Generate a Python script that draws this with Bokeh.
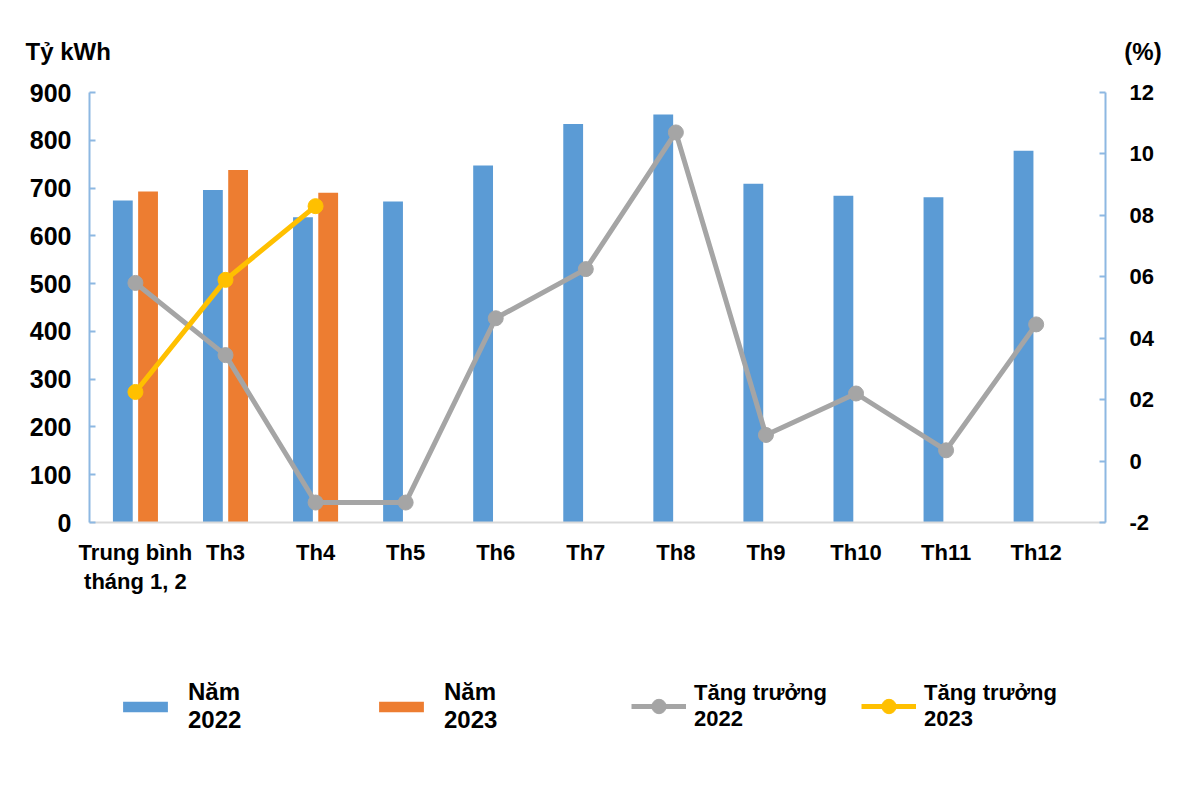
from bokeh.plotting import figure
from bokeh.layouts import column
from bokeh.models import (ColumnDataSource, Range1d, LinearAxis, FixedTicker,
                          Legend, LegendItem, Title)
from bokeh.transform import dodge
from bokeh.embed import file_html
from bokeh.resources import INLINE

categories = ["Trung bình\ntháng 1, 2", "Th3", "Th4", "Th5", "Th6", "Th7",
              "Th8", "Th9", "Th10", "Th11", "Th12"]
nam_2022 = [674, 696, 639, 672, 747, 834, 854, 709, 684, 681, 778]
nam_2023 = [693, 738, 690]
tang_truong_2022 = [5.8, 3.45, -1.35, -1.35, 4.65, 6.25, 10.7, 0.85, 2.2, 0.35, 4.45]
tang_truong_2023 = [2.25, 5.9, 8.3]
left_ticks = [0, 100, 200, 300, 400, 500, 600, 700, 800, 900]
right_ticks = [-2, 0, 2, 4, 6, 8, 10, 12]
right_tick_labels = ["-2", "0", "02", "04", "06", "08", "10", "12"]
legend_labels = ["Năm\n2022", "Năm\n2023", "Tăng trưởng\n2022", "Tăng trưởng\n2023"]
left_unit = "Tỷ kWh"
right_unit = "(%)"

BLUE = "#5B9BD5"
ORANGE = "#ED7D31"
GRAY = "#A5A5A5"
YELLOW = "#FFC000"
AXIS_BLUE = "#8DB8E2"
FONT = "Liberation Sans"
W = 1184
MAIN_H = 610
LEG_H = 168

x_all = list(range(len(categories)))
src22 = ColumnDataSource(dict(x=x_all, v=nam_2022, g=tang_truong_2022))
src23 = ColumnDataSource(dict(x=x_all[:len(nam_2023)], v=nam_2023, g=tang_truong_2023))

p = figure(width=W, height=MAIN_H, output_backend="svg", toolbar_location=None,
           x_range=Range1d(-0.51, 10.77), y_range=Range1d(0, 900),
           min_border_left=89, min_border_right=79, min_border_top=92,
           min_border_bottom=88)
p.outline_line_color = None
p.xgrid.visible = False
p.ygrid.visible = False
p.extra_y_ranges = {"pct": Range1d(-2, 12)}

# unit captions (one row: left caption ... right caption)
p.add_layout(Title(text=left_unit + "\u00a0" * 152 + right_unit, align="left",
                   offset=-64, standoff=56, text_font=FONT, text_font_style="bold",
                   text_font_size="24px", text_color="black"), "above")


def draw(fig):
    b22 = fig.vbar(x=dodge("x", -0.14, range=fig.x_range), top="v", width=0.22,
                   source=src22, color=BLUE, line_color=None)
    b23 = fig.vbar(x=dodge("x", 0.14, range=fig.x_range), top="v", width=0.22,
                   source=src23, color=ORANGE, line_color=None)
    l22 = fig.line("x", "g", source=src22, y_range_name="pct", line_color=GRAY, line_width=5)
    s22 = fig.scatter("x", "g", source=src22, y_range_name="pct", size=15,
                      fill_color=GRAY, line_color=GRAY)
    l23 = fig.line("x", "g", source=src23, y_range_name="pct", line_color=YELLOW, line_width=5)
    s23 = fig.scatter("x", "g", source=src23, y_range_name="pct", size=15,
                      fill_color=YELLOW, line_color=YELLOW)
    return b22, b23, l22, s22, l23, s23


draw(p)

# x axis
xa = p.xaxis[0]
xa.ticker = FixedTicker(ticks=x_all)
xa.major_label_overrides = {i: c for i, c in enumerate(categories)}
xa.major_tick_line_color = None
xa.minor_tick_line_color = None
xa.axis_line_color = "#D9D9D9"
xa.axis_line_width = 2
xa.major_label_text_font = FONT
xa.major_label_text_font_style = "bold"
xa.major_label_text_font_size = "22px"
xa.major_label_text_line_height = 1.17
xa.major_label_text_color = "black"
xa.major_label_standoff = 11

# left axis
ya = p.yaxis[0]
ya.ticker = FixedTicker(ticks=left_ticks)
ya.axis_line_color = AXIS_BLUE
ya.axis_line_width = 2
ya.major_tick_line_color = AXIS_BLUE
ya.major_tick_line_width = 2
ya.major_tick_in = 6
ya.major_tick_out = 0
ya.minor_tick_line_color = None
ya.major_label_text_font = FONT
ya.major_label_text_font_style = "bold"
ya.major_label_text_font_size = "25px"
ya.major_label_text_color = "black"
ya.major_label_standoff = 18

# right axis
ra = LinearAxis(y_range_name="pct", ticker=FixedTicker(ticks=right_ticks))
ra.major_label_overrides = {t: s for t, s in zip(right_ticks, right_tick_labels)}
ra.axis_line_color = AXIS_BLUE
ra.axis_line_width = 2
ra.major_tick_line_color = AXIS_BLUE
ra.major_tick_line_width = 2
ra.major_tick_in = 6
ra.major_tick_out = 0
ra.minor_tick_line_color = None
ra.major_label_text_font = FONT
ra.major_label_text_font_style = "bold"
ra.major_label_text_font_size = "22px"
ra.major_label_text_color = "black"
ra.major_label_standoff = 24
p.add_layout(ra, "right")

# ---- legend strip: same series, kept off its (empty) view, used only for swatches ----
lg = figure(width=W, height=LEG_H, output_backend="svg", toolbar_location=None,
            x_range=Range1d(100, 101), y_range=Range1d(5000, 5001),
            min_border=0, x_axis_type=None, y_axis_type=None)
lg.extra_y_ranges = {"pct": Range1d(5000, 5001)}
lg.outline_line_color = None
lg.xgrid.visible = False
lg.ygrid.visible = False
rb22, rb23, rl22, rs22, rl23, rs23 = draw(lg)


def style_legend(leg, glyph_w, glyph_h, standoff, label_w, font_px, line_h):
    leg.orientation = "horizontal"
    leg.border_line_color = None
    leg.background_fill_alpha = 0
    leg.padding = 0
    leg.margin = 0
    leg.spacing = 0
    leg.glyph_width = glyph_w
    leg.glyph_height = glyph_h
    leg.label_standoff = standoff
    leg.label_width = label_w
    leg.label_height = 64
    leg.label_text_font = FONT
    leg.label_text_font_style = "bold"
    leg.label_text_font_size = font_px
    leg.label_text_line_height = line_h
    leg.label_text_color = "black"


leg_a = Legend(items=[
    LegendItem(label=legend_labels[0], renderers=[rb22]),
    LegendItem(label=legend_labels[1], renderers=[rb23]),
], location=(28, 40))
style_legend(leg_a, 56, 13, 15, 185, "24px", 1.33)

leg_b = Legend(items=[
    LegendItem(label=legend_labels[2], renderers=[rl22, rs22]),
    LegendItem(label=legend_labels[3], renderers=[rl23, rs23]),
], location=(542, 40))
style_legend(leg_b, 55, 36, 8, 167, "22px", 1.27)

lg.add_layout(leg_a, "center")
lg.add_layout(leg_b, "center")

layout = column(p, lg, spacing=0)
open("out.html", "w").write(file_html(layout, INLINE))
